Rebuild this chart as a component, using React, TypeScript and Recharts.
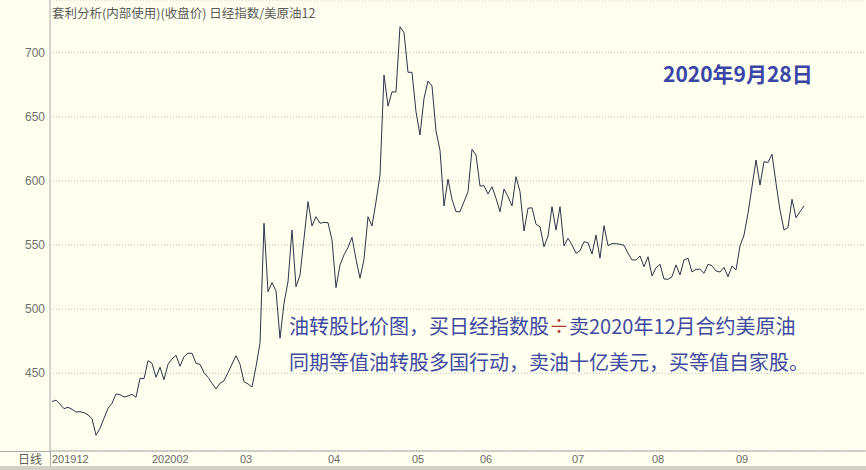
import { LineChart, Line, XAxis, YAxis, CartesianGrid } from "recharts";

// 日经指数 / 美原油12 比价，日线收盘
const monthLabels = ["201912", "202002", "03", "04", "05", "06", "07", "08", "09"];
const monthStarts = [0, 25, 47, 69, 90, 107, 130, 150, 171];
const priceTicks = [450, 500, 550, 600, 650, 700];

const ratioValues = [
  428, 429, 426, 422.4, 423.5, 421.9, 419.8, 420, 419.3, 417.5, 414.6, 401.7, 407.1,
  414.9, 422.7, 426.6, 433.9, 433.3, 431.5, 432.3, 433.6, 431.3, 446.1, 445.8, 459.8,
  457.8, 446.9, 454.7, 445, 457, 461.2, 464, 455.5, 462.9, 465.6, 465.6, 457.8,
  457, 450.5, 446.9, 442.2, 437.8, 442.2, 444.2, 450.5, 457.2, 463.7, 457, 443.5,
  441.7, 439.3, 455.2, 473.4, 567, 513.6, 520.7, 514.2, 477.3, 504.6, 521.4, 561.7,
  517.5, 526.6, 555.2, 583.8, 564.9, 572.1, 567, 567.7, 567.4,
  554, 516.8, 534.5, 542.3, 548.2, 556, 538.9, 524.1, 538.9, 572.1, 564.9, 583.8,
  604.6, 682.6, 658.4, 669.4, 669.4, 720.3, 715.6, 684.7, 684.7, 654, 635.8, 664.4,
  677.9, 674, 638.9, 623.9, 580.5, 601.3, 585.7, 576, 576, 583.8,
  591.6, 624.7, 620.2, 596, 596.3, 589.8, 595.5, 586.5, 576, 593.7, 587.7, 580.5,
  603.3, 591.6, 561, 578.7, 579.1, 566.2, 564.3, 548.7, 557, 579.9, 561.7, 579.9,
  549.3, 555.3, 550.1, 543.6, 545.6, 552.6, 551.8, 543, 557.8, 539.7, 565.1, 549.5,
  551.1, 551.1, 550.6, 549.8, 543.6, 538.4, 538.4, 541.5, 533.1, 540.9, 525.9, 532.3,
  535, 523.5, 523.3, 525.3, 534.5, 526.7, 538.4, 539.7, 529, 531.1, 531.1, 528, 535,
  533.9, 529.8, 529, 532.6, 525.3, 533.7, 530.6, 549.3, 557.8, 574.8, 595.5, 616.3,
  596.8, 615, 614.5, 620.8, 598.2, 577.3, 561.7, 563.7, 585.7, 571.3, 576, 580.5,
];

const data = ratioValues.map((v, i) => ({ i, v }));
const labelByStart = new Map(monthStarts.map((s, k) => [s, monthLabels[k]]));

const axisGray = "#a9a9a9";
const cjk = '"Noto Sans CJK SC", "Noto Sans", sans-serif';

export default function App() {
  return (
    <div
      style={{
        position: "absolute",
        left: 0,
        top: 0,
        width: 866,
        height: 470,
        background: "#ffffef",
        overflow: "hidden",
      }}
    >
      <LineChart width={866} height={470} data={data} margin={{ top: 0, right: 0, bottom: 0, left: 0 }}>
        <CartesianGrid vertical={false} stroke="#b8b8b8" strokeDasharray="1 2" />
        <XAxis
          dataKey="i"
          type="number"
          domain={[-0.5, 203.5]}
          allowDataOverflow
          ticks={monthStarts}
          interval={0}
          height={19}
          tickLine={false}
          axisLine={{ stroke: axisGray }}
          tick={(p: any) => (
            <text
              x={p.x}
              y={459}
              textAnchor="start"
              dominantBaseline="central"
              fontSize={11}
              fontFamily="Liberation Sans"
              fill="#6a6a6a"
            >
              {labelByStart.get(p.payload.value)}
            </text>
          )}
        />
        <YAxis
          type="number"
          domain={[389.4, 741.1]}
          allowDataOverflow
          ticks={priceTicks}
          interval={0}
          width={50}
          tickLine={false}
          axisLine={{ stroke: axisGray }}
          tick={(p: any) => (
            <text
              x={45}
              y={p.y}
              textAnchor="end"
              dominantBaseline="central"
              fontSize={12}
              fontFamily="Liberation Sans"
              fill="#707070"
            >
              {p.payload.value}
            </text>
          )}
        />
        <Line
          type="linear"
          dataKey="v"
          stroke="#2c3448"
          strokeWidth={1}
          dot={false}
          isAnimationActive={false}
        />
      </LineChart>

      {/* axis extensions and bottom band */}
      <div style={{ position: "absolute", left: 0, top: 451, width: 50, height: 1, background: axisGray }} />
      <div style={{ position: "absolute", left: 50, top: 451, width: 1, height: 16, background: axisGray }} />
      <div style={{ position: "absolute", left: 0, top: 466, width: 866, height: 4, background: "#d4d0c8" }} />

      <div
        style={{
          position: "absolute",
          left: 18,
          top: 451,
          lineHeight: "16px",
          fontSize: 12,
          fontFamily: cjk,
          color: "#606060",
        }}
      >
        日线
      </div>

      <div
        style={{
          position: "absolute",
          left: 52,
          top: 5,
          lineHeight: "16px",
          fontSize: 12.5,
          fontFamily: cjk,
          color: "#5a5a5a",
          whiteSpace: "nowrap",
        }}
      >
        套利分析(内部使用)(收盘价) 日经指数/美原油12
      </div>

      <div
        style={{
          position: "absolute",
          left: 663,
          top: 58,
          lineHeight: "30px",
          fontSize: 21,
          fontWeight: 700,
          fontFamily: cjk,
          color: "#3a46a6",
          whiteSpace: "nowrap",
        }}
      >
        2020年9月28日
      </div>

      <div
        style={{
          position: "absolute",
          left: 289,
          top: 308,
          lineHeight: "36px",
          fontSize: 20,
          fontFamily: cjk,
          color: "#3d4a9e",
          whiteSpace: "nowrap",
        }}
      >
        <div>
          油转股比价图，买日经指数股<span style={{ color: "#b03a2e" }}>÷</span>卖2020年12月合约美原油
        </div>
        <div>同期等值油转股多国行动，卖油十亿美元，买等值自家股。</div>
      </div>
    </div>
  );
}
